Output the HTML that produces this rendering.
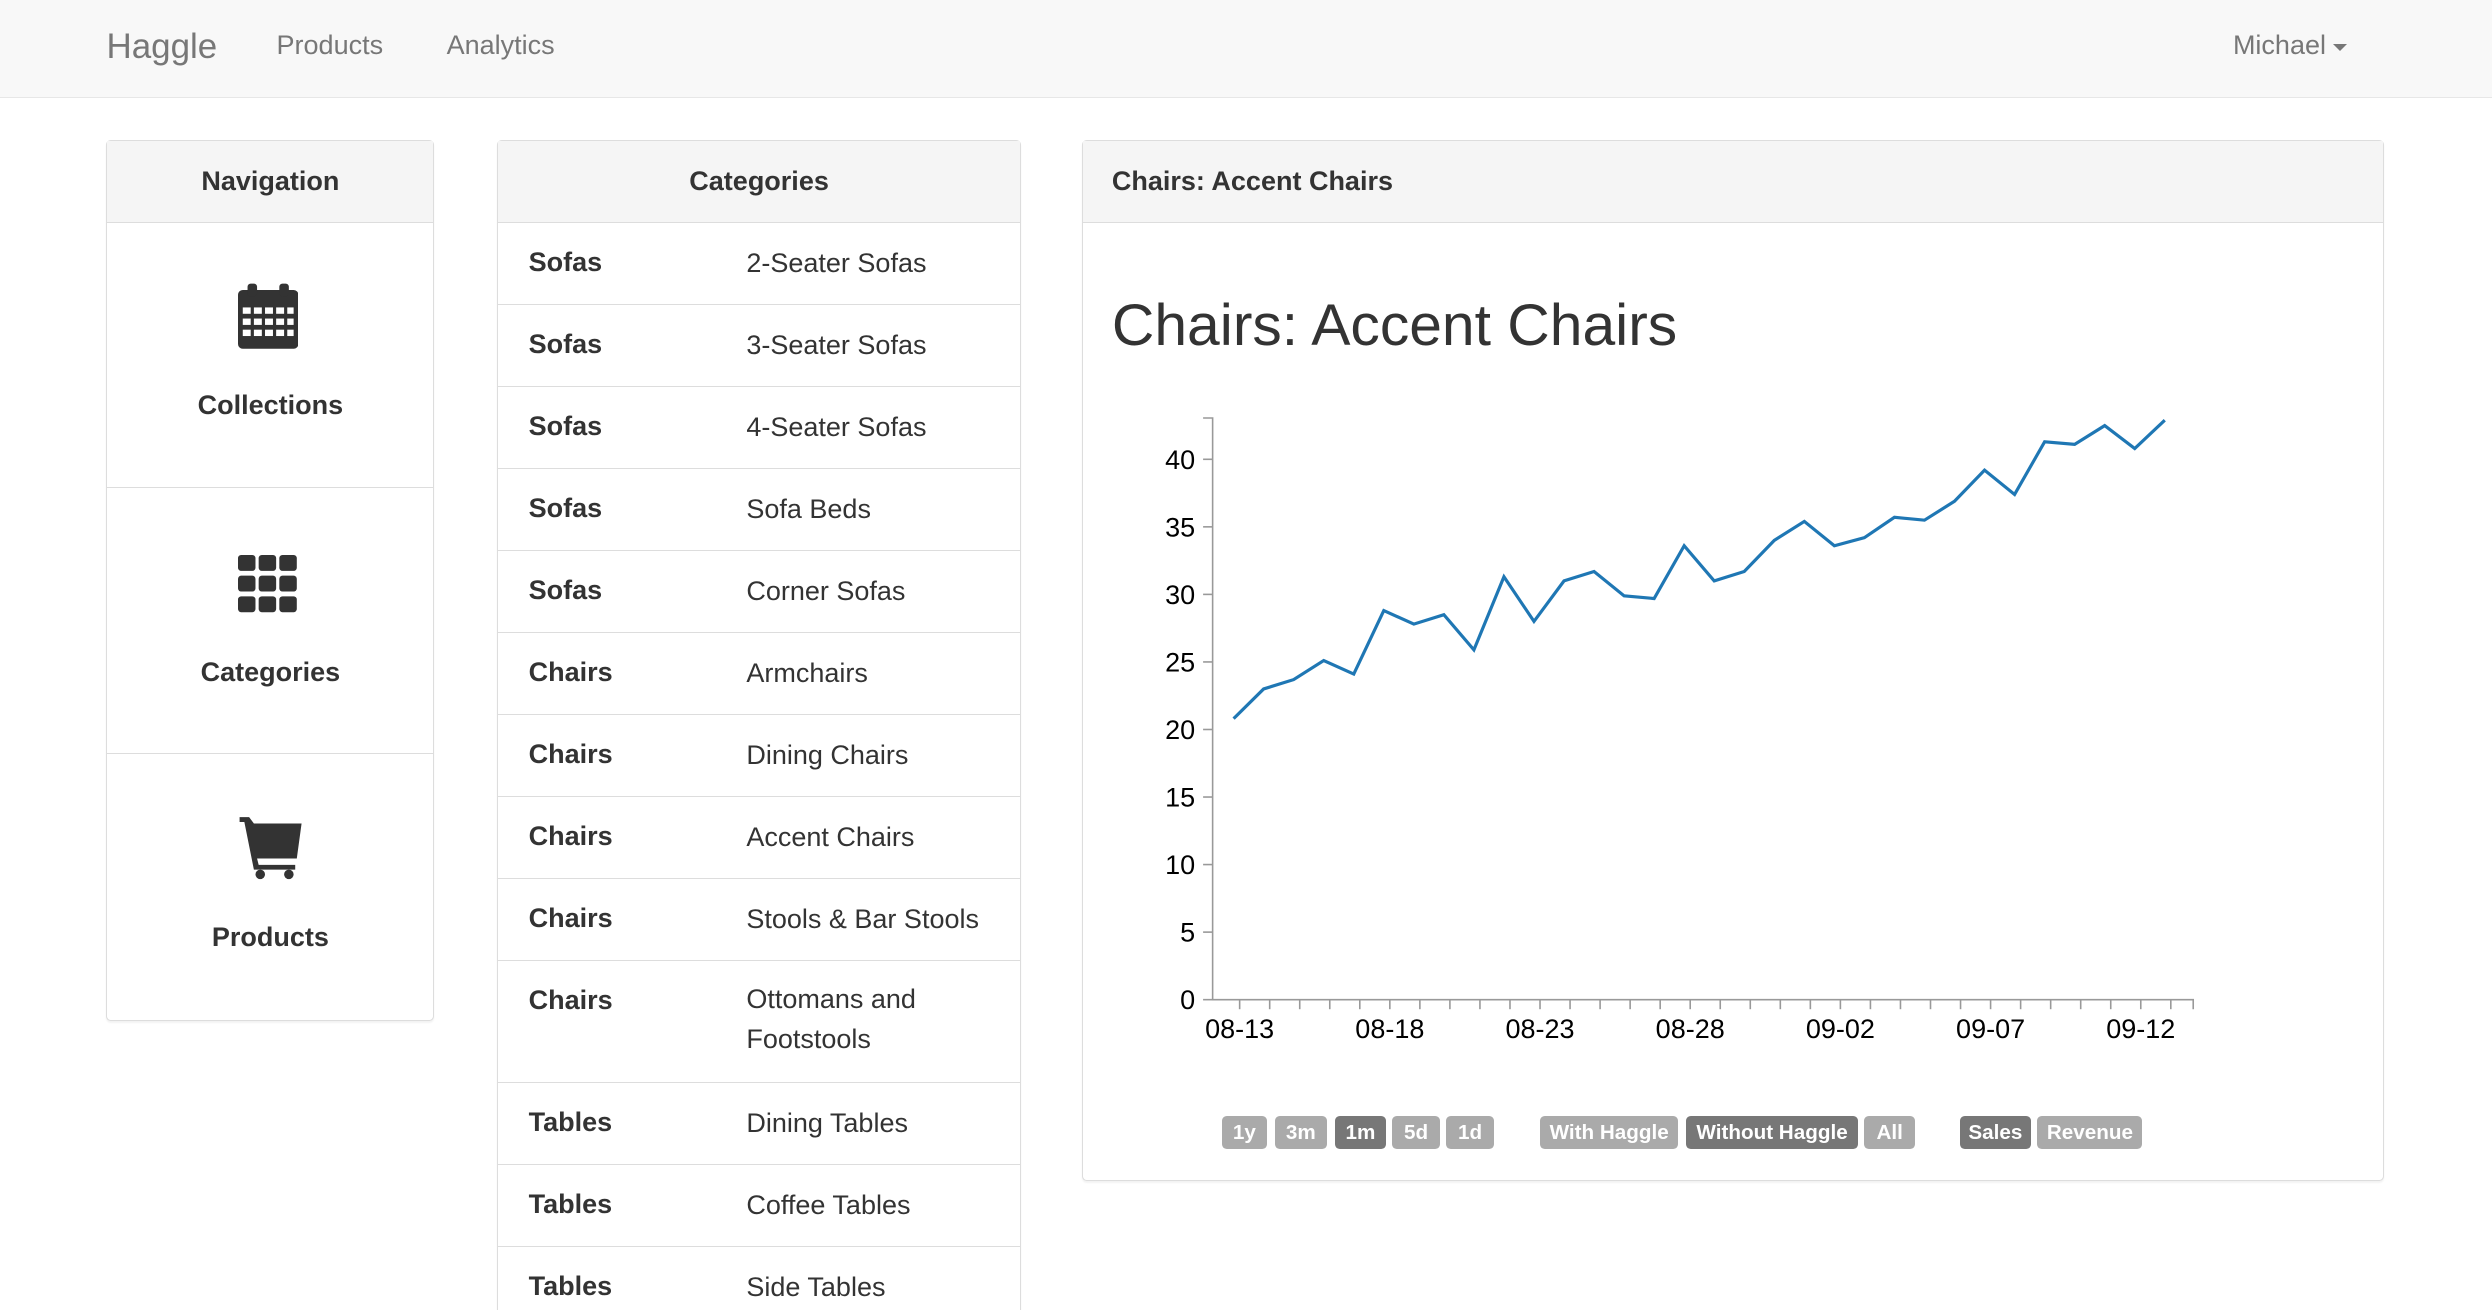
<!DOCTYPE html>
<html><head><meta charset="utf-8">
<style>
html,body{margin:0;padding:0;background:#fff;overflow:hidden;}
#wrap{position:relative;width:1568px;height:824px;zoom:1.58929;font-family:"Liberation Sans",sans-serif;color:#333;}
.abs{position:absolute;}
.nav{left:0;top:0;width:1568px;height:61px;background:#f8f8f8;border-bottom:1px solid #e7e7e7;}
.panel{border:1px solid #ddd;border-radius:3px;background:#fff;box-shadow:0 1px 1px rgba(0,0,0,.05);}
.ph{background:#f5f5f5;border-bottom:1px solid #ddd;height:51px;line-height:51px;font-size:17px;font-weight:bold;color:#333;}
.navitem{position:absolute;left:0;width:100%;height:167px;border-top:1px solid #ddd;text-align:center;}
.navitem .lbl{position:absolute;left:0;right:0;top:104px;font-size:17px;font-weight:bold;}
.row{position:absolute;left:0;width:100%;border-top:1px solid #ddd;font-size:17px;}
.row .a{position:absolute;left:19px;top:15px;font-weight:bold;}
.row .b{position:absolute;left:156px;top:15px;line-height:25px;}
.btn{position:absolute;top:702px;height:21px;line-height:21px;border-radius:3px;background:#aaa;color:#fff;font-size:13px;font-weight:bold;text-align:center;}
.btn.on{background:#777;}
</style></head><body>
<div id="wrap">
 <div class="abs nav">
  <div class="abs" style="left:67px;top:17px;font-size:22px;color:#777">Haggle</div>
  <div class="abs" style="left:174px;top:19px;font-size:17px;color:#777">Products</div>
  <div class="abs" style="left:281px;top:19px;font-size:17px;color:#777">Analytics</div>
  <div class="abs" style="left:1405px;top:19px;font-size:17px;color:#777">Michael <span style="display:inline-block;border-left:5px solid transparent;border-right:5px solid transparent;border-top:5px solid #777;vertical-align:middle"></span></div>
 </div>

 <div class="abs panel" style="left:67px;top:88px;width:205px;height:553px">
  <div class="ph" style="text-align:center">Navigation</div>
  <div class="navitem" style="top:51px;border-top:none">
   <svg class="abs" style="left:82px;top:38px" width="38" height="42" viewBox="0 0 38 42">
    <rect x="0" y="5" width="38" height="37" rx="3" fill="#333"/><rect x="6" y="1" width="6" height="8" rx="2" fill="#333"/><rect x="26" y="1" width="6" height="8" rx="2" fill="#333"/>
    <g fill="#fff"><rect x="3" y="16" width="5" height="4"/><rect x="10" y="16" width="5" height="4"/><rect x="17" y="16" width="5" height="4"/><rect x="24" y="16" width="5" height="4"/><rect x="31" y="16" width="4" height="4"/>
    <rect x="3" y="23" width="5" height="4"/><rect x="10" y="23" width="5" height="4"/><rect x="17" y="23" width="5" height="4"/><rect x="24" y="23" width="5" height="4"/><rect x="31" y="23" width="4" height="4"/>
    <rect x="3" y="30" width="5" height="4"/><rect x="10" y="30" width="5" height="4"/><rect x="17" y="30" width="5" height="4"/><rect x="24" y="30" width="5" height="4"/><rect x="31" y="30" width="4" height="4"/></g>
   </svg>
   <div class="lbl" style="top:106px">Collections</div>
  </div>
  <div class="navitem" style="top:218px">
   <svg class="abs" style="left:82px;top:42px" width="38" height="38" viewBox="0 0 38 38">
    <g fill="#333"><rect x="0" y="0" width="11" height="10" rx="2"/><rect x="13" y="0" width="11" height="10" rx="2"/><rect x="26" y="0" width="11" height="10" rx="2"/>
    <rect x="0" y="13" width="11" height="10" rx="2"/><rect x="13" y="13" width="11" height="10" rx="2"/><rect x="26" y="13" width="11" height="10" rx="2"/>
    <rect x="0" y="26" width="11" height="10" rx="2"/><rect x="13" y="26" width="11" height="10" rx="2"/><rect x="26" y="26" width="11" height="10" rx="2"/></g>
   </svg>
   <div class="lbl" style="top:106px">Categories</div>
  </div>
  <div class="navitem" style="top:385px">
   <svg class="abs" style="left:82px;top:38px" width="42" height="42" viewBox="0 0 42 42">
    <path d="M1 2 H7 L10 6 H40 L37 28 H12 L13 32 H36 V35 H10 L4 5 H1 Z" fill="#333"/><circle cx="14" cy="38" r="3" fill="#333"/><circle cx="32" cy="38" r="3" fill="#333"/>
   </svg>
   <div class="lbl" style="top:106px">Products</div>
  </div>
 </div>

 <div class="abs panel" style="left:313px;top:88px;width:328px;height:760px;border-bottom:none">
  <div class="ph" style="text-align:center">Categories</div>
  <div id="rows"></div>
 </div>

 <div class="abs panel" style="left:681px;top:88px;width:818px;height:654px">
  <div class="ph" style="padding-left:18px">Chairs: Accent Chairs</div>
  <div class="abs" style="left:18px;top:95px;font-size:37px;color:#333">Chairs: Accent Chairs</div>
 </div>

 <svg id="chart" class="abs" style="left:0;top:0" width="1568" height="824"></svg>

 <div class="btn" style="left:769px;width:28px">1y</div>
 <div class="btn" style="left:802px;width:33px">3m</div>
 <div class="btn on" style="left:840px;width:32px">1m</div>
 <div class="btn" style="left:876px;width:30px">5d</div>
 <div class="btn" style="left:910px;width:30px">1d</div>
 <div class="btn" style="left:969px;width:87px">With Haggle</div>
 <div class="btn on" style="left:1061px;width:108px">Without Haggle</div>
 <div class="btn" style="left:1173px;width:32px">All</div>
 <div class="btn on" style="left:1233px;width:45px">Sales</div>
 <div class="btn" style="left:1282px;width:66px">Revenue</div>
</div>
<script>
var catGroups=["Sofas","Sofas","Sofas","Sofas","Sofas","Chairs","Chairs","Chairs","Chairs","Chairs","Tables","Tables","Tables"];
var catNames=["2-Seater Sofas","3-Seater Sofas","4-Seater Sofas","Sofa Beds","Corner Sofas","Armchairs","Dining Chairs","Accent Chairs","Stools & Bar Stools","Ottomans and<br>Footstools","Dining Tables","Coffee Tables","Side Tables"];
var rowsEl=document.getElementById('rows');var rowTop=51;
for(var i=0;i<catGroups.length;i++){
 var h=(i==9)?77:51.6;
 var r=document.createElement('div');r.className='row';r.style.top=rowTop+'px';r.style.height=h+'px';
 
 
 r.innerHTML='<div class="a">'+catGroups[i]+'</div><div class="b" style="top:'+(i==9?12:13)+'px">'+catNames[i]+'</div>';
 rowsEl.appendChild(r);rowTop+=h;
}
var values=[20.8,23.0,23.7,25.1,24.1,28.8,27.8,28.5,25.9,31.3,28.0,31.0,31.7,29.9,29.7,33.6,31.0,31.7,34.0,35.4,33.6,34.2,35.7,35.5,36.9,39.2,37.4,41.3,41.1,42.5,40.8,42.9];
var yTicks=[0,5,10,15,20,25,30,35,40];
var xTickLabels=["08-13","08-18","08-23","08-28","09-02","09-07","09-12"];
var NS='http://www.w3.org/2000/svg',svg=document.getElementById('chart');
function y(v){return 629-v*8.5;}
function x(d){return 780+d*18.9;}
function el(t,a){var e=document.createElementNS(NS,t);for(var k in a)e.setAttribute(k,a[k]);svg.appendChild(e);return e;}
var ax=el('path',{d:'M757,263H763V629H1380V635',fill:'none',stroke:'#999','stroke-width':1});


for(var i=0;i<yTicks.length;i++){
 var t=el('line',{x1:757,x2:763,y1:y(yTicks[i]),y2:y(yTicks[i]),stroke:'#999'});
 
 
 var tx=el('text',{x:752,y:y(yTicks[i])+6,'text-anchor':'end','font-size':17,fill:'#000','font-family':'Liberation Sans, sans-serif'});
 tx.textContent=yTicks[i];
 
 
}
for(var d=0;d<=31;d++){
 var t=el('line',{x1:x(d),x2:x(d),y1:629,y2:635,stroke:'#999'});
 
 
}
for(var i=0;i<xTickLabels.length;i++){
 var tx=el('text',{x:x(i*5),y:653,'text-anchor':'middle','font-size':17,fill:'#000','font-family':'Liberation Sans, sans-serif'});
 tx.textContent=xTickLabels[i];
 
 
}
var pts=values.map(function(v,i){return x(i-0.2).toFixed(1)+','+y(v).toFixed(1);});
var ln=el('polyline',{points:pts.join(' '),fill:'none',stroke:'#1f77b4','stroke-width':2,'stroke-linejoin':'miter'});


</script>
</body></html>
